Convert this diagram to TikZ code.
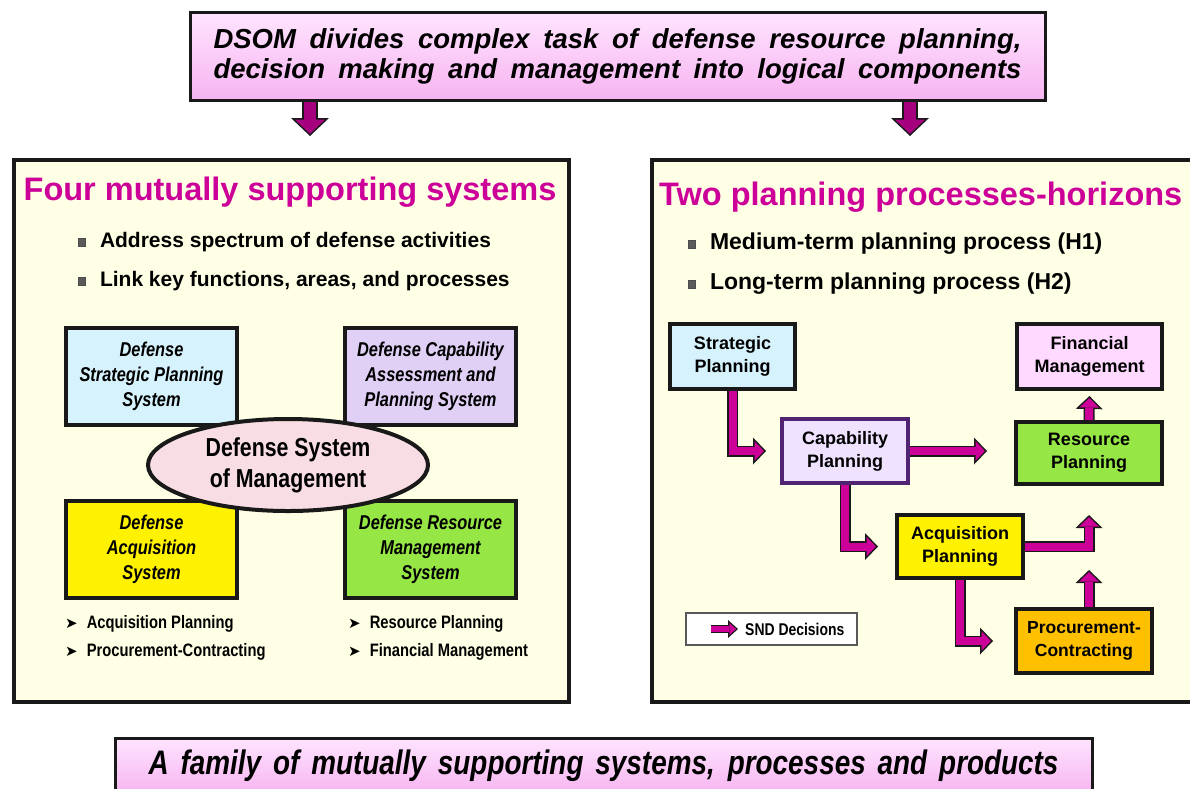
\documentclass[tikz,border=0pt]{standalone}
\usepackage{fontspec}
\setmainfont{Liberation Sans}
\newfontfamily\narrowsf{Liberation Sans}[FakeStretch=0.82]
\newfontfamily\symsf{DejaVu Sans}
\usetikzlibrary{arrows.meta,shapes.geometric,positioning,shadows}
\definecolor{sndmag}{RGB}{204,0,153}
\definecolor{darkmag}{RGB}{165,0,125}
\definecolor{titlemag}{RGB}{204,0,153}
\definecolor{edge}{RGB}{25,25,25}
\definecolor{panelbg}{RGB}{255,255,229}
\definecolor{bannertop}{RGB}{255,228,255}
\definecolor{bannerbot}{RGB}{246,180,240}
\definecolor{skyfill}{RGB}{214,243,253}
\definecolor{lilacfill}{RGB}{224,208,245}
\definecolor{lilacline}{RGB}{80,35,115}
\definecolor{capfill}{RGB}{238,226,255}
\definecolor{finfill}{RGB}{255,217,255}
\definecolor{limefill}{RGB}{150,230,70}
\definecolor{orangefill}{RGB}{255,192,0}
\definecolor{rosefill}{RGB}{248,222,228}
\definecolor{bulgray}{RGB}{90,90,90}
\newcommand\fs[2]{\fontsize{#1}{#2}\selectfont}
\newcommand\subhead{{\symsf\fs{15}{15}➤}\enspace}

\begin{document}
\begin{tikzpicture}[x=1pt,y=-1pt,
  panel/.style={draw=edge,line width=4pt,fill=panelbg,anchor=north west,inner sep=0pt},
  banner/.style={draw=edge,line width=3pt,top color=bannertop,bottom color=bannerbot,inner sep=0pt,
    drop shadow={shadow xshift=2pt,shadow yshift=-2pt,opacity=.35}},
  sysbox/.style={draw=edge,line width=4pt,minimum width=171pt,minimum height=97pt,align=center,
    inner sep=0pt,font=\narrowsf\bfseries\itshape\fs{20}{25}},
  core/.style={ellipse,draw=edge,line width=4pt,fill=rosefill,minimum width=280pt,minimum height=92pt,
    align=center,inner sep=0pt,font=\narrowsf\bfseries\fs{26}{31}},
  stepbox/.style={draw=edge,line width=4pt,align=center,inner sep=0pt,font=\bfseries\fs{18}{23}},
  headline/.style={text=titlemag,inner sep=0pt,font=\bfseries\fs{32.5}{38}},
  bul/.style={fill=bulgray,draw=black!70,line width=.6pt,minimum width=7pt,minimum height=8pt,inner sep=0pt},
  item/.style={inner sep=1pt,font=\bfseries\fs{21}{25}},
  sub/.style={anchor=west,inner sep=1pt,font=\narrowsf\bfseries\fs{18}{22}},
  snd/.style={draw=edge,line width=11pt,line join=miter,
    -{Triangle[length=13pt,width=27pt,line width=0pt]},
    postaction={draw=sndmag,line width=8pt,shorten >=2.1pt,
      -{Triangle[length=9.4pt,width=19.6pt,line width=0pt]}}},
  bigsnd/.style={draw=edge,line width=16pt,line join=miter,
    -{Triangle[length=18pt,width=38pt,line width=0pt]},
    postaction={draw=darkmag,line width=12.5pt,shorten >=2.1pt,
      -{Triangle[length=14.4pt,width=30.4pt,line width=0pt]}}},
  sndsmall/.style={draw=edge,line width=8pt,line join=miter,
    -{Triangle[length=10pt,width=18pt,line width=0pt]},
    postaction={draw=sndmag,line width=5.5pt,shorten >=1.9pt,
      -{Triangle[length=6.85pt,width=12.3pt,line width=0pt]}}}]
  \useasboundingbox (0,0) rectangle (1190,788);

  \node[panel,minimum width=555pt,minimum height=542pt] (sys) at (12,158) {};
  \node[panel,minimum width=560pt,minimum height=542pt] (proc) at (650,158) {};

  \node[banner,minimum width=855pt,minimum height=88pt,align=center,font=\bfseries\itshape\fs{27.5}{30}] (dsom) at (617.5,56)
    {\makebox[808pt][s]{DSOM divides complex task of defense resource planning,}\\
     \makebox[808pt][s]{decision making and management into logical components}};
  \node[banner,minimum width=977pt,minimum height=56pt,font=\narrowsf\bfseries\itshape\fs{34}{38}] (family) at (603.5,766)
    {\makebox[910pt][s]{A family of mutually supporting systems, processes and products}};

  \coordinate (sysin) at (310,136);
  \coordinate (procin) at (910,136);
  \draw[bigsnd] (dsom.south -| sysin) -- (sysin);
  \draw[bigsnd] (dsom.south -| procin) -- (procin);

  \node[headline] (systitle) at (290,192) {Four mutually supporting systems};
  \node[bul] (b1) at (82,242) {};
  \node[item,right=13pt of b1] (b1t) {Address spectrum of defense activities};
  \node[bul] (b2) at (82,281) {};
  \node[item,right=13pt of b2] (b2t) {Link key functions, areas, and processes};

  \node[sysbox,fill=skyfill] (dsps) at (151.5,376.5) {Defense\\Strategic Planning\\System};
  \node[sysbox,fill=lilacfill] (dcaps) at (430.5,376.5) {Defense Capability\\Assessment and\\Planning System};
  \node[sysbox,fill=yellow] (das) at (151.5,549) {Defense\\Acquisition\\System};
  \node[sysbox,fill=limefill] (drms) at (430.5,549) {Defense Resource\\Management\\System};
  \node[core] (dsm) at (288,465) {Defense System\\of Management};

  \node[sub] (acqp) at (64,624) {\subhead Acquisition Planning};
  \node[sub] (prcc) at (64,652) {\subhead Procurement-Contracting};
  \node[sub] (resp) at (347,624) {\subhead Resource Planning};
  \node[sub] (finm) at (347,652) {\subhead Financial Management};

  \node[headline,anchor=west] (proctitle) at (659,197) {Two planning processes-horizons};
  \node[bul] (b3) at (692,244) {};
  \node[item,right=13pt of b3,font=\bfseries\fs{23}{27}] (b3t) {Medium-term planning process (H1)};
  \node[bul] (b4) at (692,284) {};
  \node[item,right=13pt of b4,font=\bfseries\fs{23}{27}] (b4t) {Long-term planning process (H2)};

  \node[stepbox,fill=skyfill,minimum width=125pt,minimum height=65pt] (stp) at (732.5,356.5) {Strategic\\Planning};
  \node[stepbox,fill=finfill,minimum width=145pt,minimum height=65pt] (fin) at (1089.5,356.5) {Financial\\Management};
  \node[stepbox,fill=capfill,draw=lilacline,minimum width=126pt,minimum height=64pt] (cap) at (845,451) {Capability\\Planning};
  \node[stepbox,fill=limefill,minimum width=146pt,minimum height=62pt] (res) at (1089,453) {Resource\\Planning};
  \node[stepbox,fill=yellow,minimum width=126pt,minimum height=63pt] (acq) at (960,546.5) {Acquisition\\Planning};
  \node[stepbox,fill=orangefill,minimum width=136pt,minimum height=64pt,font=\bfseries\fs{17.5}{23}] (pro) at (1084,641) {Procurement-\\Contracting};

  \draw[snd] (stp.south) |- ([xshift=-14pt]cap.west);
  \draw[snd] (cap.east) -- ([xshift=-27pt]cap.east -| res.west);
  \draw[snd] (cap.south) |- ([xshift=-17pt]acq.west);
  \draw[snd] (acq.east) -| ([yshift=-29pt]res.south);
  \draw[snd] (pro.north -| res.south) -- ([yshift=37pt]pro.north -| res.south);
  \draw[snd] (res.north) -- ([yshift=-5pt]fin.south);
  \draw[snd] (acq.south) |- ([xshift=-21pt]pro.west);

  \node[draw=gray!70!black,line width=1.2pt,fill=white,minimum width=171pt,minimum height=32pt] (key) at (771.5,629) {};
  \coordinate (keya) at (711,629);
  \coordinate (keyb) at (738,629);
  \draw[sndsmall] (keya) -- (keyb);
  \node[anchor=west,inner sep=0pt,font=\narrowsf\bfseries\fs{17}{20}] (keyt) at (745,629) {SND Decisions};
\end{tikzpicture}
\end{document}
